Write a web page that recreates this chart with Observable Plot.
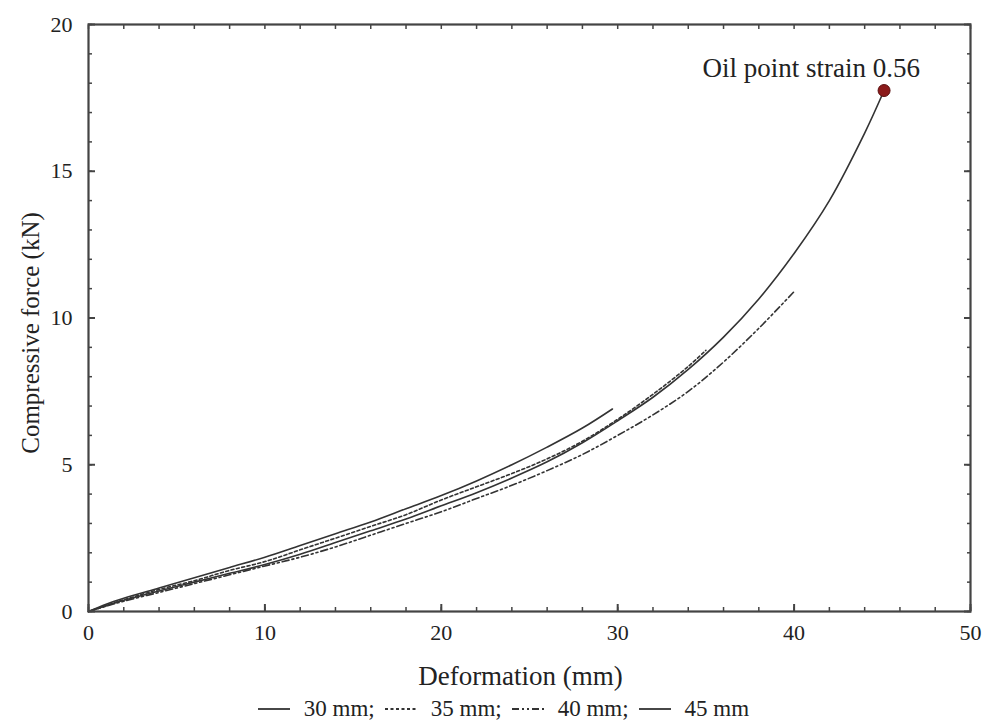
<!DOCTYPE html>
<html><head><meta charset="utf-8">
<script src="https://cdn.jsdelivr.net/npm/d3@7"></script>
<script src="https://cdn.jsdelivr.net/npm/@observablehq/plot@0.6"></script>
<style>
body{margin:0;background:#fff;font-family:"Liberation Serif","DejaVu Serif","Times New Roman",serif;color:#222}
#legend{width:987px;display:flex;justify-content:center;align-items:center;gap:10px;font-size:23px;height:26px;margin-left:10px;margin-top:-4px}
#legend span.item{display:inline-flex;align-items:center;gap:14px}
</style></head>
<body><div id="chart"></div><div id="legend"></div>
<script>
const seriesNames = ["30 mm", "35 mm", "40 mm", "45 mm"];
const x30 = [0,1,2,4,6,8,10,12,14,16,18,20,22,24,26,28,29.7];
const y30 = [0,0.25,0.45,0.8,1.15,1.5,1.85,2.25,2.65,3.05,3.5,3.95,4.45,5.0,5.6,6.25,6.9];
const x35 = [0,1,2,4,6,8,10,12,14,16,18,20,22,24,26,28,30,32,34,35];
const y35 = [0,0.2,0.4,0.75,1.05,1.4,1.7,2.1,2.5,2.9,3.3,3.8,4.25,4.7,5.2,5.8,6.55,7.4,8.35,8.9];
const x40 = [0,1,2,4,6,8,10,12,14,16,18,20,22,24,26,28,30,32,34,36,38,40];
const y40 = [0,0.18,0.35,0.65,0.95,1.25,1.55,1.85,2.2,2.6,3.0,3.4,3.85,4.3,4.8,5.35,6.0,6.7,7.5,8.5,9.65,10.9];
const x45 = [0,1,2,4,6,8,10,12,14,16,18,20,22,24,26,28,30,32,34,36,38,40,42,44,45.1];
const y45 = [0,0.2,0.38,0.7,1.0,1.3,1.6,1.95,2.35,2.75,3.15,3.6,4.05,4.55,5.1,5.75,6.5,7.3,8.25,9.35,10.65,12.2,14.0,16.3,17.75];
const oilPoint = {x: 45.1, y: 17.75, label: "Oil point strain 0.56"};
const xMajor = [0,10,20,30,40,50];
const yMajor = [0,5,10,15,20];
const xMinor = d3.range(0, 51, 2);
const yMinor = d3.range(0, 21, 1);
const xLabel = "Deformation (mm)";
const yLabel = "Compressive force (kN)";
const dashes = ["none", "3,2.5", "7,3,2,3,2,3", "none"];

const allX = [x30, x35, x40, x45], allY = [y30, y35, y40, y45];
const rows = allX.flatMap((xs, i) => xs.map((x, j) => ({series: seriesNames[i], x, y: allY[i][j]})));

const serif = "'Liberation Serif', 'DejaVu Serif', 'Times New Roman', serif";
const lineColor = "#333";
const tickStyle = {text: null, label: null, stroke: "#444"};
const chart = Plot.plot({
  width: 987, height: 700,
  marginLeft: 88, marginRight: 17, marginTop: 24, marginBottom: 89,
  x: {domain: [0, 50]},
  y: {domain: [0, 20]},
  style: {fontFamily: serif, fontSize: "22px", color: "#222", background: "#fff"},
  marks: [
    ...seriesNames.map((s, i) => Plot.line(rows.filter(d => d.series === s), {
      x: "x", y: "y", stroke: lineColor, strokeWidth: 1.6, strokeDasharray: dashes[i], curve: "catmull-rom"
    })),
    Plot.frame({stroke: "#444", strokeWidth: 2.2}),
    Plot.axisX({...tickStyle, ticks: xMajor, tickSize: -7, strokeWidth: 2}),
    Plot.axisX({...tickStyle, ticks: xMinor, tickSize: -4, strokeWidth: 1.5}),
    Plot.axisX({...tickStyle, anchor: "top", ticks: xMinor, tickSize: -4, strokeWidth: 1.5}),
    Plot.axisY({...tickStyle, ticks: yMajor, tickSize: -7, strokeWidth: 2}),
    Plot.axisY({...tickStyle, ticks: yMinor, tickSize: -4, strokeWidth: 1.5}),
    Plot.axisY({...tickStyle, anchor: "right", ticks: yMajor, tickSize: -7, strokeWidth: 2}),
    Plot.axisY({...tickStyle, anchor: "right", ticks: yMinor, tickSize: -4, strokeWidth: 1.5}),
    Plot.axisX({ticks: xMajor, tickSize: 0, tickPadding: 13, label: null, fontSize: 22, fill: "#222", fontFamily: serif}),
    Plot.axisY({ticks: yMajor, tickSize: 0, tickPadding: 16, label: null, fontSize: 22, fill: "#222", fontFamily: serif}),
    Plot.text([xLabel], {frameAnchor: "bottom", textAnchor: "middle", lineAnchor: "middle", dy: 65, dx: -9, fontSize: 27, fill: "#222", fontFamily: serif}),
    Plot.text([yLabel], {frameAnchor: "left", textAnchor: "middle", lineAnchor: "middle", rotate: -90, dx: -58, dy: 15, fontSize: 25, fill: "#222", fontFamily: serif}),
    Plot.dot([oilPoint], {x: "x", y: "y", r: 6, fill: "#8b1a1a", stroke: "#5a0f0f", strokeWidth: 1}),
    Plot.text([oilPoint], {x: "x", y: "y", text: "label", textAnchor: "end", dx: 36, dy: -22, fontSize: 27, fill: "#222", fontFamily: serif})
  ]
});
document.getElementById("chart").appendChild(chart);

const legend = document.getElementById("legend");
seriesNames.forEach((s, i) => {
  const item = document.createElement("span");
  item.className = "item";
  item.innerHTML = `<svg width="32" height="10"><line x1="0" y1="5" x2="32" y2="5" stroke="${lineColor}" stroke-width="1.8" stroke-dasharray="${dashes[i]}"/></svg><span>${s}${i < seriesNames.length - 1 ? ";" : ""}</span>`;
  legend.appendChild(item);
});
</script>
</body></html>
